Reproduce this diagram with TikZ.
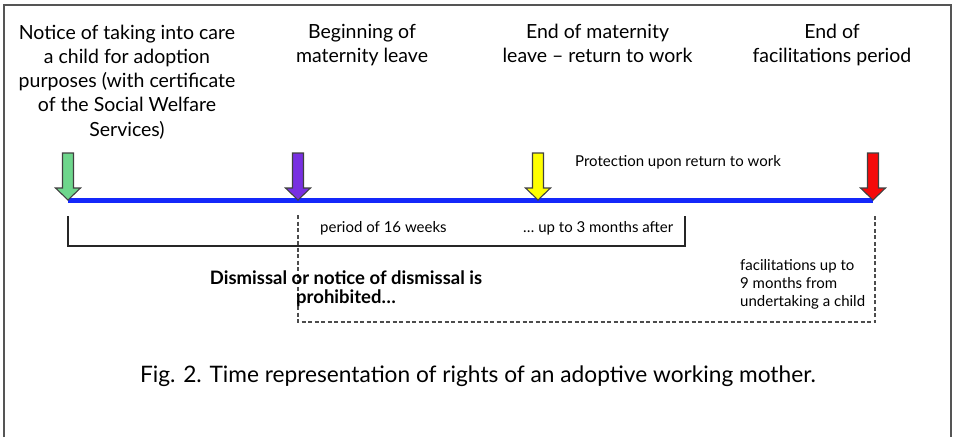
\documentclass[tikz,border=0pt]{standalone}
\usepackage{fontspec}
\setmainfont{Lato}
\definecolor{framegray}{RGB}{85,85,85}
\definecolor{lineblue}{RGB}{20,40,250}
\definecolor{mkgreen}{RGB}{110,214,140}
\definecolor{mkpurple}{RGB}{120,48,225}
\definecolor{mkyellow}{RGB}{255,255,0}
\definecolor{mkred}{RGB}{245,10,10}
\tikzset{
  frameline/.style={draw=framegray, line width=2pt},
  timeline/.style={draw=lineblue, line width=5pt},
  bracket/.style={draw=black!85, line width=1.3pt},
  dashbracket/.style={draw=black!70, line width=1.3pt, dash pattern=on 4pt off 2.5pt},
  eventlabel/.style={align=center, inner sep=0pt, font=\fontsize{19.5}{24.25}\selectfont},
  notelabel/.style={inner sep=0pt, font=\fontsize{15}{18}\selectfont},
  pics/markerarrow/.style={code={
    \draw[line width=1.1pt, draw=black!75, fill=#1, line join=miter]
      (0,0) -- (12.5,-12) -- (5.5,-12) -- (5.5,-47) -- (-5.5,-47)
      -- (-5.5,-12) -- (-12.5,-12) -- cycle;}}
}
\begin{document}
\begin{tikzpicture}[x=1pt,y=-1pt]
\useasboundingbox (0,0) rectangle (956,437);
% open frame
\draw[frameline] (4,437) -- (4,5) -- (951,5) -- (951,437);

% time points
\coordinate (t1) at (68,200);
\coordinate (t2) at (298,200);
\coordinate (t3) at (538,200);
\coordinate (t4) at (873,200);

\draw[timeline] (t1) -- (t4);
\pic at (t1) {markerarrow=mkgreen};
\pic at (t2) {markerarrow=mkpurple};
\pic at (t3) {markerarrow=mkyellow};
\pic at (t4) {markerarrow=mkred};

% event labels (anchored at the baseline of their last line)
\node[eventlabel, anchor=base] (ev1) at (127,136) {Notice of taking into care\\a child for adoption\\purposes (with certificate\\of the Social Welfare\\Services)};
\node[eventlabel, anchor=base] (ev2) at (362,62.75) {Beginning of\\maternity leave};
\node[eventlabel, anchor=base] (ev3) at (597.5,62.75) {End of maternity\\leave -- return to work};
\node[eventlabel, anchor=base] (ev4) at (832,62.75) {End of\\facilitations period};

% protection brackets
\coordinate (sL) at (68,216);
\coordinate (sR) at (685,216);
\draw[bracket] (sL) -- ++(0,30) -| (sR);
\coordinate (dL) at (298,215);
\coordinate (dR) at (875,215);
\draw[dashbracket] (dL) -- ++(0,107) -| (dR);

% notes
\node[notelabel, anchor=base west] (prot) at (575,166) {Protection upon return to work};
\node[notelabel, anchor=base west] (p16) at (320,232) {period of 16 weeks};
\node[notelabel, anchor=base west] (p3m) at (523,232) {\dots\ up to 3 months after};
\node[notelabel, anchor=base west, align=left] (fac) at (740,306) {facilitations up to\\9 months from\\undertaking a child};
\node[inner sep=0pt, anchor=base, align=center, font=\fontsize{18.5}{19}\selectfont\bfseries] (dism) at (346,303) {Dismissal or notice of dismissal is\\prohibited\dots};

% caption
\node[inner sep=0pt, anchor=base, font=\fontsize{22.7}{26}\selectfont] (cap) at (478,382) {Fig. 2. Time representation of rights of an adoptive working mother.};
\end{tikzpicture}
\end{document}
